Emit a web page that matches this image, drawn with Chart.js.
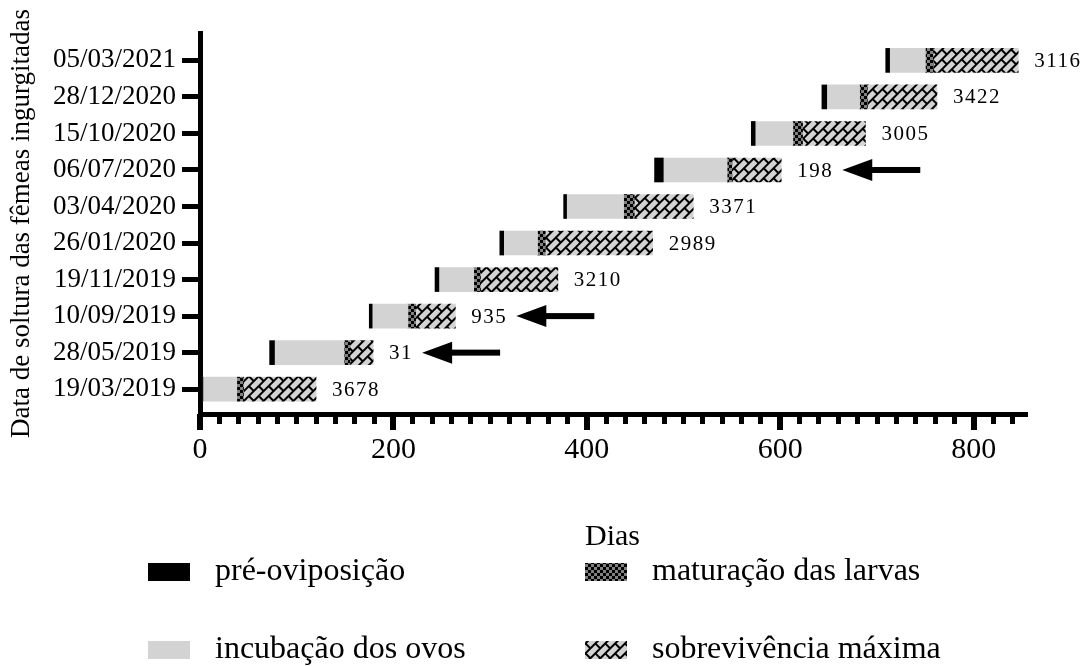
<!DOCTYPE html>
<html>
<head>
<meta charset="utf-8">
<title>Ciclo das fêmeas ingurgitadas</title>
<script src="https://cdn.jsdelivr.net/npm/chart.js@4.4.1/dist/chart.umd.min.js"></script>
<style>
  html, body { margin: 0; padding: 0; background: #ffffff; }
  #wrap { width: 1083px; height: 666px; }
</style>
</head>
<body>
<div id="wrap"><canvas id="grafico" width="1083" height="666"></canvas></div>
<script>
// Datas de soltura (de baixo para cima no eixo Y)
const datasSoltura = ['19/03/2019', '28/05/2019', '10/09/2019', '19/11/2019', '26/01/2020',
                      '03/04/2020', '06/07/2020', '15/10/2020', '28/12/2020', '05/03/2021'];
// Dia em que começa cada barra
const inicio = [0, 72, 175, 243, 310, 376, 470, 570, 643, 709];
// Duração (dias) de cada fase
const preOviposicao = [3, 5, 3, 4, 4, 3, 9, 4, 5, 4];
const incubacao = [35, 72, 37, 36, 35, 59, 66, 39, 34, 37];
const maturacao = [7, 6, 8, 7, 8, 11, 5, 10, 8, 8];
const sobrevivencia = [75, 24, 41, 80, 111, 61, 51, 65, 72, 88];
// Número de larvas de cada postura
const larvas = [3678, 31, 935, 3210, 2989, 3371, 198, 3005, 3422, 3116];
// Posturas assinaladas com seta
const destaque = [false, true, true, false, false, false, true, false, false, false];
// Rótulos do eixo X
const rotulosX = [0, 200, 400, 600, 800];

const SERIF = '"Liberation Serif", "Times New Roman", serif';
const CINZA = '#d3d3d3';

// Padrão xadrez (maturação das larvas)
function padraoXadrez(ctx) {
  const c = document.createElement('canvas');
  c.width = 6; c.height = 6;
  const g = c.getContext('2d');
  g.fillStyle = '#808080'; g.fillRect(0, 0, 6, 6);
  g.fillStyle = '#000000'; g.fillRect(0, 0, 3, 3); g.fillRect(3, 3, 3, 3);
  return ctx.createPattern(c, 'repeat');
}

// Padrão de tijolos inclinados (sobrevivência máxima)
function padraoTijolos(ctx) {
  const h = 7, L = 14, w = 2;
  const c = document.createElement('canvas');
  c.width = L; c.height = 2 * h;
  const g = c.getContext('2d');
  g.fillStyle = CINZA; g.fillRect(0, 0, L, 2 * h);
  g.fillStyle = '#000';
  g.fillRect(0, 0, L, w);
  g.fillRect(0, h, L, w);
  g.fillRect(0, 0, w, h);
  g.fillRect(L / 2, h, w, h);
  const p = ctx.createPattern(c, 'repeat');
  p.setTransform(new DOMMatrix().rotate(-45));
  return p;
}

const canvas = document.getElementById('grafico');
const ctx2d = canvas.getContext('2d');
const xadrez = padraoXadrez(ctx2d);
const tijolos = padraoTijolos(ctx2d);

// Intervalos [início, fim] de cada fase
function faixas(fase) {
  const fases = [preOviposicao, incubacao, maturacao, sobrevivencia];
  return datasSoltura.map((_, i) => {
    let a = inicio[i];
    for (let k = 0; k < fase; k++) a += fases[k][i];
    return { x: [a, a + fases[fase][i]], y: i };
  });
}

function fimDaBarra(i) {
  return inicio[i] + preOviposicao[i] + incubacao[i] + maturacao[i] + sobrevivencia[i];
}

const itensLegenda = [
  { texto: 'pré-oviposição', cor: '#000000', x: 148, y: 563 },
  { texto: 'maturação das larvas', cor: xadrez, x: 585, y: 563 },
  { texto: 'incubação dos ovos', cor: CINZA, x: 148, y: 641 },
  { texto: 'sobrevivência máxima', cor: tijolos, x: 585, y: 641 }
];

const extras = {
  id: 'extras',
  afterDraw(chart) {
    const { ctx, scales: { x, y } } = chart;
    ctx.save();
    // marcas principais do eixo X, mais longas
    ctx.fillStyle = '#000';
    rotulosX.forEach(v => {
      const px = Math.round(x.getPixelForValue(v));
      ctx.fillRect(px - 3, x.top, 6, 16);
    });
    // número de larvas à direita de cada barra, e setas
    ctx.font = '21px ' + SERIF;
    ctx.letterSpacing = '1.5px';
    ctx.textBaseline = 'middle';
    ctx.textAlign = 'left';
    larvas.forEach((n, i) => {
      const px = x.getPixelForValue(fimDaBarra(i)) + 16;
      const py = y.getPixelForValue(i) + 1;
      const txt = String(n);
      ctx.fillText(txt, px, py);
      if (destaque[i]) {
        const ponta = px + ctx.measureText(txt).width + 9;
        const cy = y.getPixelForValue(i);
        ctx.beginPath();
        ctx.moveTo(ponta, cy);
        ctx.lineTo(ponta + 30, cy - 11);
        ctx.lineTo(ponta + 30, cy + 11);
        ctx.closePath();
        ctx.fill();
        ctx.fillRect(ponta + 28, cy - 3, 50, 6);
      }
    });
    ctx.letterSpacing = '0px';
    // legenda
    ctx.font = '32px ' + SERIF;
    itensLegenda.forEach(it => {
      ctx.fillStyle = it.cor;
      ctx.fillRect(it.x, it.y, 42, 18);
      ctx.fillStyle = '#000';
      ctx.fillText(it.texto, it.x + 67, it.y + 9);
    });
    ctx.restore();
  }
};

new Chart(canvas, {
  type: 'bar',
  data: {
    datasets: [
      { label: 'pré-oviposição', data: faixas(0), backgroundColor: '#000000' },
      { label: 'incubação dos ovos', data: faixas(1), backgroundColor: CINZA },
      { label: 'maturação das larvas', data: faixas(2), backgroundColor: xadrez },
      { label: 'sobrevivência máxima', data: faixas(3), backgroundColor: tijolos }
    ].map(d => Object.assign(d, { grouped: false, barThickness: 24, borderWidth: 0 }))
  },
  options: {
    indexAxis: 'y',
    responsive: false,
    animation: false,
    devicePixelRatio: 1,
    layout: { padding: { left: 0, top: 33, right: 58, bottom: 111 } },
    plugins: { legend: { display: false }, tooltip: { enabled: false } },
    scales: {
      x: {
        type: 'linear',
        min: 0,
        max: 853,
        afterBuildTicks: s => {
          const t = [];
          for (let v = 0; v <= 840; v += 20) t.push({ value: v });
          s.ticks = t;
        },
        afterFit: s => { s.height = 141; },
        border: { display: true, width: 5, color: '#000' },
        grid: { display: true, drawOnChartArea: false, drawTicks: true, tickLength: 10, lineWidth: 5, color: '#000' },
        ticks: {
          autoSkip: false, maxRotation: 0, padding: 8, color: '#000',
          font: { family: SERIF, size: 30 },
          callback: v => rotulosX.includes(v) ? String(v) : ''
        },
        title: { display: true, text: 'Dias', color: '#000', font: { family: SERIF, size: 30 }, padding: 0 }
      },
      y: {
        type: 'linear',
        offset: false,
        min: -0.68,
        max: 9.75,
        afterBuildTicks: s => { s.ticks = datasSoltura.map((_, i) => ({ value: i })); },
        afterFit: s => { s.width = 200; },
        border: { display: true, width: 5, color: '#000' },
        grid: { display: true, offset: false, drawOnChartArea: false, drawTicks: true, tickLength: 18, lineWidth: 5, color: '#000' },
        ticks: {
          autoSkip: false, padding: 6, color: '#000',
          font: { family: SERIF, size: 27 },
          callback: v => datasSoltura[v]
        },
        title: { display: true, text: 'Data de soltura das fêmeas ingurgitadas', color: '#000', font: { family: SERIF, size: 27 }, padding: { top: 6, bottom: 0 } }
      }
    }
  },
  plugins: [extras]
});
</script>
</body>
</html>
